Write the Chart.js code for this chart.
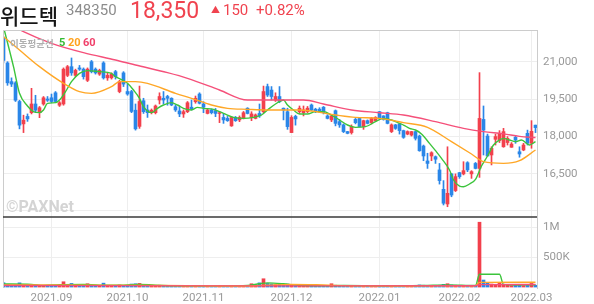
<!DOCTYPE html>
<html lang="ko">
<head>
<meta charset="utf-8">
<script src="https://cdn.jsdelivr.net/npm/chart.js@4.4.0/dist/chart.umd.min.js"></script>
<style>
  html, body { margin: 0; padding: 0; background: #fff; }
  #wrap { position: relative; width: 594px; height: 304px; overflow: hidden; font-family: Roboto, "Noto Sans CJK KR", sans-serif; }
  #chart { position: absolute; left: 0; top: 0; }
  .t { position: absolute; white-space: nowrap; line-height: 1; }
</style>
</head>
<body>
<div id="wrap">
  <canvas id="chart" width="594" height="304"></canvas>
  <span class="t" style="left:0;top:0;font:500 21px 'Noto Sans CJK KR';color:#151515;">위드텍</span>
  <span class="t" style="left:66px;top:3px;font-size:15px;color:#8c8c8c;">348350</span>
  <span class="t" style="left:130px;top:-1px;font-size:23px;color:#f0434f;">18,350</span>
  <span class="t" style="left:211px;top:6px;font-size:9px;color:#f0434f;">▲</span>
  <span class="t" style="left:223px;top:3px;font-size:15px;color:#f0434f;">150</span>
  <span class="t" style="left:256px;top:3px;font-size:15px;color:#f0434f;">+0.82%</span>
  <span class="t" style="left:10px;top:36px;font:700 9.5px 'Noto Sans CJK KR';color:#b0b0b0;">이동평균선</span>
  <span class="t" style="left:59px;top:36px;font:700 11px Roboto;color:#33bb33;">5</span>
  <span class="t" style="left:68px;top:36px;font:700 11px Roboto;color:#ffa21f;">20</span>
  <span class="t" style="left:83px;top:36px;font:700 11px Roboto;color:#f0406a;">60</span>
  <span class="t" style="left:6px;top:197px;font:700 16px Roboto;color:#d4d4d4;">©PAXNet</span>
</div>
<script>
// trading days 2021-08-13 .. 2022-03-03 (KRX holidays removed)
const holidays = ['2021-08-16', '2021-09-20', '2021-09-21', '2021-09-22', '2021-10-04', '2021-10-11',
  '2021-12-31', '2022-01-31', '2022-02-01', '2022-02-02', '2022-03-01'];
const dates = [];
for (let d = new Date(Date.UTC(2021, 7, 13)); d <= new Date(Date.UTC(2022, 2, 3)); d.setUTCDate(d.getUTCDate() + 1)) {
  const s = d.toISOString().slice(0, 10);
  const wd = d.getUTCDay();
  if (wd !== 0 && wd !== 6 && !holidays.includes(s)) dates.push(s);
}

const opens = [21950,20950,20200,20150,19400,18500,18800,18950,19300,18950,
  19300,19500,19550,19750,19250,19300,20450,20800,20450,20750,
  20700,20250,21000,20700,20500,20950,20350,20350,20600,19800,
  20550,19800,19800,19050,18400,19430,19060,18950,18950,19460,
  19530,19600,19530,19190,19020,18900,18990,19170,19390,19700,
  19300,18920,19060,19030,18920,18760,18720,18420,18760,18660,
  18720,19130,18760,18720,18920,18990,20000,19860,19460,19600,
  19130,18990,18150,18800,18990,18950,18990,19260,19090,19090,
  19170,18820,18660,19030,18590,18460,18190,18150,18680,18720,
  18390,18630,18550,18630,18990,18820,18950,18190,18460,18500,
  18230,18090,18050,18190,18010,17610,17010,17210,17180,16650,
  15870,15280,16490,15820,16540,16490,16940,16490,16910,16710,
  18680,18010,17250,17880,17830,17580,17750,17560,17960,17380,
  17450,18120,17720,18450];
const highs = [22000,21000,20350,20200,19450,18850,18900,19930,19650,19200,
  19600,19600,19700,19800,19400,20750,20850,21150,20700,20850,
  20750,20750,21050,20750,20700,21000,20550,20550,20650,20250,
  20600,20100,19850,19300,20020,19530,19260,19100,19260,19750,
  19800,19650,19550,19260,19220,19060,19400,19460,19620,19750,
  19390,19100,19100,19120,18990,18920,18800,18790,18800,18820,
  19000,19150,18990,18900,19300,20020,20100,20000,19750,20000,
  19140,19130,18830,18850,19220,19220,19200,19300,19130,19150,
  19200,18870,18860,19060,18680,18500,18200,18460,18720,18750,
  18650,18660,18760,18790,19000,18830,18970,18500,18480,18520,
  18250,18220,18200,18210,18050,17650,17320,17380,17210,16910,
  16220,17580,16510,16490,16550,16980,16980,16620,16950,20560,
  19220,18090,17580,18090,18230,18320,17990,17750,18010,17580,
  17720,18250,18630,18450];
const lows = [20950,20050,20000,19400,18300,18150,18600,18900,18950,18750,
  19250,19400,19350,19350,19200,19250,20400,20450,20400,20650,
  20300,20200,20550,20500,20450,20300,20250,20300,20300,19750,
  20000,19650,18950,18250,18320,18920,18760,18900,18900,19300,
  19300,19250,19230,19000,18790,18760,18950,19060,19330,19300,
  18950,18900,18900,18790,18550,18520,18600,18400,18600,18590,
  18700,18900,18630,18700,18760,18950,19600,19460,19400,19350,
  18660,18280,18150,18450,18920,18820,18950,19030,18950,18950,
  18900,18700,18590,18420,18360,18150,18100,18090,18500,18380,
  18280,18500,18500,18600,18700,18650,18500,18150,18280,18090,
  17920,18060,18010,17850,17400,17020,16710,17020,16910,16080,
  15240,15170,15570,15780,16310,16450,16580,16310,16690,16350,
  17250,17210,16850,17650,17750,17560,17650,17560,17720,17160,
  17420,17650,17520,18150];
const closes = [21050,20150,20100,19450,18450,18650,18700,19300,19050,19150,
  19550,19450,19400,19400,19350,20700,20800,20550,20650,20700,
  20400,20700,20600,20550,20650,20350,20450,20500,20400,20200,
  20100,19700,19000,18300,19400,18990,18950,19050,19220,19600,
  19460,19530,19260,19060,18900,18990,19350,19090,19530,19330,
  19170,19060,18950,18920,18950,18660,18630,18760,18630,18760,
  18950,18920,18900,18860,18820,19800,19660,19600,19600,19400,
  19060,18390,18760,18700,19130,19060,19130,19060,18990,18990,
  18950,18720,18820,18520,18460,18190,18120,18390,18550,18390,
  18630,18520,18720,18760,18720,18680,18520,18460,18320,18230,
  17960,18190,18190,17920,17420,17210,16910,17340,17080,16220,
  15310,15710,15640,16380,16380,16620,16650,16580,16710,18720,
  18250,17210,17520,17990,18120,18190,17920,17690,17850,17290,
  17650,17720,18200,18350];
const volumes = [72000,45000,30000,40000,70000,45000,20000,45000,25000,20000,
  25000,15000,15000,20000,15000,88000,45000,60000,30000,25000,
  30000,55000,30000,15000,20000,65000,20000,15000,20000,35000,
  25000,20000,50000,55000,60000,25000,20000,15000,20000,30000,
  20000,15000,15000,15000,20000,15000,25000,15000,20000,20000,
  20000,10000,10000,15000,20000,15000,10000,20000,10000,15000,
  20000,20000,55000,25000,70000,138000,60000,50000,40000,45000,
  35000,50000,40000,20000,25000,20000,15000,20000,15000,15000,
  15000,15000,55000,30000,20000,25000,15000,20000,15000,20000,
  20000,15000,15000,20000,20000,15000,25000,20000,15000,20000,
  25000,15000,15000,20000,35000,30000,25000,20000,15000,30000,
  45000,55000,35000,30000,15000,20000,20000,15000,20000,1080000,
  117000,70000,50000,40000,70000,40000,35000,25000,30000,35000,
  25000,35000,60000,30000];

// moving averages: [day index, value]
const ma5 = [[0,22400],[2.5,20800],[4,19728],[6,19219],[7.5,18991],[9,18951],[10,19058],[11,19326],[13,19353],[14,19460],
  [15.5,19795],[17,20197],[19,20532],[21,20639],[24,20599],[27,20532],[28,20398],[30,20237],[31,20130],[32.5,19862],
  [34,19527],[35,19192],[37,18951],[38.5,19125],[40,19259],[42,19353],[43.5,19259],[45,19125],[47,19058],[48.5,19165],
  [50,19125],[52.5,19085],[55,18924],[57.5,18763],[60,18723],[62.5,18763],[64.5,18857],[66.5,19125],[68,19299],[70,19460],
  [71,19259],[72.5,19058],[74,18897],[76,18897],[78,18991],[80,18991],[82,18857],[84,18656],[86,18455],[88,18361],
  [90.5,18388],[93,18589],[95,18723],[97,18656],[99,18522],[100,18455],[101.5,18321],[103,18254],[104.5,18093],[106.5,17718],
  [108,17423],[109.5,17115],[111.5,16646],[112.5,16244],[114,16003],[115,15976],[116.5,16083],[118,16271],[119.5,16807],[121,17209],
  [122.5,17651],[124,17852],[125,17919],[126.5,17852],[128,17785],[129.5,17852],[131.5,17651],[133,17785]];
const ma20 = [[0,22006],[4,21470],[9,20800],[15,20130],[19,19795],[22,19728],[27,19996],[29,20197],[33,20197],[36,20130],
  [43,19728],[47,19527],[52,19259],[56,19125],[61,19085],[66,19058],[74,19058],[83,18857],[88,18763],[94,18723],
  [100,18549],[106,18361],[112,17785],[117,17289],[120,16981],[125,16914],[129,17021],[133,17450]];
const ma60 = [[0,22650],[5,22207],[12,21738],[20,21363],[28,21068],[33,20867],[41,20559],[46,20331],[54,19862],[61,19460],
  [66,19460],[75,19460],[80,19300],[87,19058],[94,18950],[100,18857],[108,18589],[115,18321],[120,18187],[125,18100],
  [129,18000],[133,17950]];
const vma5 = [[0,50000],[7,45000],[10,25000],[14,40000],[20,45000],[24,30000],[30,30000],[34,45000],[38,30000],[45,18000],
  [55,15000],[61,25000],[64,55000],[66,70000],[70,55000],[73,35000],[78,20000],[85,25000],[95,18000],[105,25000],
  [111,35000],[118,25000],[119,212000],[124,212000],[125,45000],[128,35000],[133,38000]];
const vma20 = [[0,35000],[20,32000],[40,25000],[55,17000],[63,22000],[66,30000],[72,45000],[80,35000],[88,20000],[100,18000],
  [115,22000],[118,22000],[119,78000],[133,80000]];
const vma60 = [[0,25000],[60,20000],[118,22000],[119,40000],[133,42000]];

const priceTicks = [15000, 16500, 18000, 19500, 21000];
const volumeTicks = [500000, 1000000];

const RED = '#f2404c';
const BLUE = '#2a86e8';
const up = closes.map((c, i) => c >= opens[i]);
const candleColors = up.map(u => u ? RED : BLUE);
const monthStarts = dates.map((d, i) => i).filter(i => i > 0 && dates[i].slice(5, 7) !== dates[i - 1].slice(5, 7));
const pts = arr => arr.map(p => ({ x: p[0], y: p[1] }));

function maLine(data, color, axis) {
  return {
    type: 'line', data: pts(data), yAxisID: axis, borderColor: color, borderWidth: 1.4,
    pointRadius: 0, cubicInterpolationMode: 'monotone', order: 0
  };
}

const framePlugin = {
  id: 'frame',
  afterDraw(chart) {
    const { ctx, chartArea: a, scales } = chart;
    ctx.save();
    ctx.strokeStyle = '#cccccc';
    ctx.lineWidth = 1;
    ctx.beginPath();
    ctx.moveTo(a.left + 0.5, a.bottom);
    ctx.lineTo(a.left + 0.5, a.top + 0.5);
    ctx.lineTo(a.right, a.top + 0.5);
    ctx.stroke();
    ctx.strokeStyle = '#3a3a3a';
    ctx.lineWidth = 1.5;
    ctx.beginPath();
    ctx.moveTo(a.left, scales.yv.top);
    ctx.lineTo(a.right, scales.yv.top);
    ctx.stroke();
    ctx.restore();
  }
};

const axisFont = { family: 'Roboto', size: 11.5 };

new Chart(document.getElementById('chart'), {
  data: {
    datasets: [
      maLine(ma60, '#f5507a', 'y'),
      maLine(ma20, '#ffa726', 'y'),
      maLine(ma5, '#3cc43c', 'y'),
      maLine(vma60, '#f5507a', 'yv'),
      maLine(vma20, '#ffa726', 'yv'),
      maLine(vma5, '#3cc43c', 'yv'),
      {
        type: 'bar', yAxisID: 'y', order: 1, grouped: false, barThickness: 1,
        data: dates.map((d, i) => ({ x: i, y: [lows[i], highs[i]] })),
        backgroundColor: candleColors
      },
      {
        type: 'bar', yAxisID: 'y', order: 1, grouped: false, barThickness: 3,
        data: dates.map((d, i) => ({ x: i, y: [opens[i], closes[i]] })),
        backgroundColor: candleColors
      },
      {
        type: 'bar', yAxisID: 'yv', order: 1, grouped: false, barThickness: 3,
        data: dates.map((d, i) => ({ x: i, y: volumes[i] })),
        backgroundColor: candleColors
      }
    ]
  },
  options: {
    responsive: false,
    animation: false,
    layout: { padding: { top: 30, left: 3, right: 0, bottom: 0 } },
    plugins: { legend: { display: false }, tooltip: { enabled: false } },
    scales: {
      x: {
        type: 'linear', min: -0.125, max: 133.375, offset: false,
        afterBuildTicks: s => { s.ticks = monthStarts.map(i => ({ value: i })); },
        afterFit: s => { s.height = 16; },
        grid: { color: '#eeeeee', drawTicks: false, offset: false },
        border: { display: false },
        ticks: {
          padding: 3, color: '#999', font: axisFont, maxRotation: 0, autoSkip: false,
          callback: v => dates[v].slice(0, 7).replace('-', '.')
        }
      },
      y: {
        position: 'right', stack: 'panes', stackWeight: 187, min: 14757, max: 22274,
        afterBuildTicks: s => { s.ticks = priceTicks.map(v => ({ value: v })); },
        afterFit: s => { s.width = 57; },
        grid: { color: '#eeeeee', drawTicks: false },
        border: { color: '#cccccc' },
        ticks: {
          padding: 6, color: '#999', font: axisFont,
          callback: v => v === 15000 ? '' : v.toLocaleString('en-US')
        }
      },
      yv: {
        position: 'right', stack: 'panes', stackWeight: 71, min: -16000, max: 1167000,
        afterBuildTicks: s => { s.ticks = volumeTicks.map(v => ({ value: v })); },
        afterFit: s => { s.width = 57; },
        grid: { color: '#eeeeee', drawTicks: false },
        border: { color: '#cccccc' },
        ticks: {
          padding: 6, color: '#999', font: axisFont,
          callback: v => v >= 1000000 ? (v / 1000000) + 'M' : (v / 1000) + 'K'
        }
      }
    }
  },
  plugins: [framePlugin]
});
</script>
</body>
</html>
